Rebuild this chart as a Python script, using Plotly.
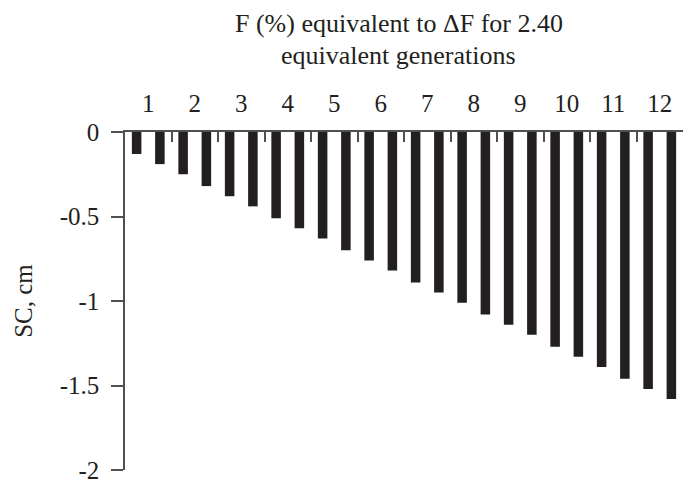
import plotly.graph_objects as go

bar_index = list(range(1, 25))
sc_values = [-0.13, -0.19, -0.25, -0.32, -0.38, -0.44, -0.51, -0.57, -0.63, -0.70, -0.76, -0.82,
             -0.89, -0.95, -1.01, -1.08, -1.14, -1.20, -1.27, -1.33, -1.39, -1.46, -1.52, -1.58]
f_labels = [str(i) for i in range(1, 13)]
label_pos = [2 * i - 0.5 for i in range(1, 13)]
boundary_pos = [2 * i + 0.5 for i in range(1, 12)]
y_ticks = [0, -0.5, -1, -1.5, -2]
y_labels = ["0", "-0.5", "-1", "-1.5", "-2"]
title_lines = ["F (%) equivalent to ΔF for 2.40", "equivalent generations"]

FONT = "Liberation Serif, Times New Roman, serif"
AX = "#505050"
TXT = "#231f20"
FS = 25
W, H = 683, 483
ML, MR, MT, MB = 125, 0, 132, 13
PH = H - MT - MB

fig = go.Figure()
fig.add_trace(go.Bar(x=bar_index, y=sc_values, width=0.41,
                     marker=dict(color=TXT, line=dict(width=0)), showlegend=False))
# invisible trace to activate the label axis
fig.add_trace(go.Scatter(x=[label_pos[0]], y=[0], xaxis="x2", mode="markers",
                         marker=dict(opacity=0), showlegend=False, hoverinfo="skip"))

for i, line in enumerate(title_lines):
    fig.add_annotation(text=line, xref="paper", yref="paper",
                       x=(398.5 - ML) / (W - ML - MR),
                       y=1 + (MT - 23 - 32 * i) / PH,
                       xanchor="center", yanchor="middle", showarrow=False,
                       font=dict(family=FONT, size=26, color=TXT))

fig.update_layout(
    width=W, height=H,
    margin=dict(l=ML, r=MR, t=MT, b=MB),
    paper_bgcolor="white", plot_bgcolor="white",
    font=dict(family=FONT, size=FS, color=TXT),
    xaxis=dict(range=[0.5, 24.5], side="top", showgrid=False, zeroline=False,
               showline=True, linecolor=AX, linewidth=1.5,
               tickmode="array", tickvals=boundary_pos, ticktext=[""] * len(boundary_pos),
               ticks="inside", ticklen=10, tickwidth=1.5, tickcolor=AX, anchor="y"),
    xaxis2=dict(range=[0.5, 24.5], overlaying="x", side="top", showgrid=False,
                zeroline=False, showline=False, anchor="y",
                tickmode="array", tickvals=label_pos, ticktext=f_labels,
                ticks="", ticklabelstandoff=14,
                tickfont=dict(family=FONT, size=FS, color=TXT)),
    yaxis=dict(range=[-2, 0], showgrid=False, zeroline=False,
               showline=True, linecolor=AX, linewidth=1.5,
               tickmode="array", tickvals=y_ticks, ticktext=y_labels,
               ticks="outside", ticklen=12, tickwidth=1.5, tickcolor=AX,
               ticklabelstandoff=7, ticklabeloverflow="allow",
               title=dict(text="SC, cm", standoff=20,
                          font=dict(family=FONT, size=FS, color=TXT))),
)

fig.write_html("out.html", config={"displayModeBar": False},
               post_script="document.body.style.margin='0px';document.body.style.overflow='hidden';")
